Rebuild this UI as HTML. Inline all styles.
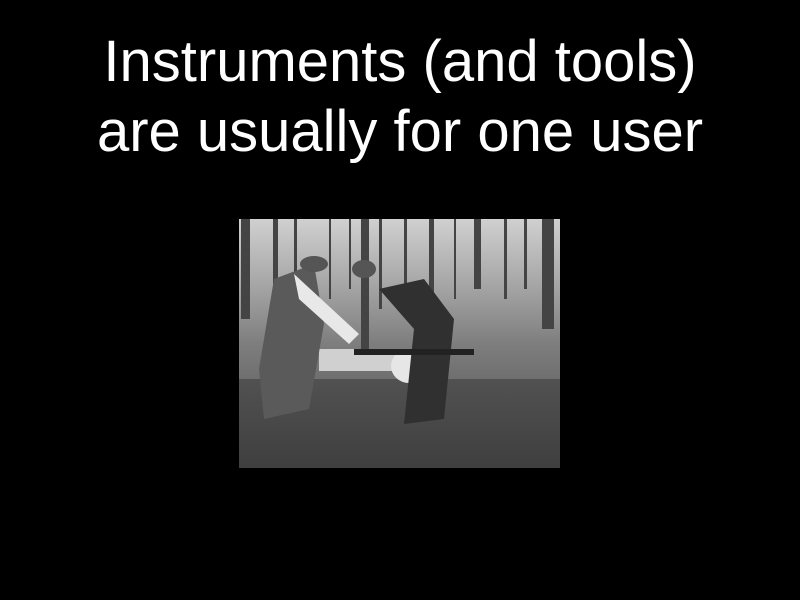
<!DOCTYPE html>
<html><head><meta charset="utf-8"><style>
html,body{margin:0;padding:0;background:#000;width:800px;height:600px;overflow:hidden}
.t{position:absolute;left:0;width:800px;text-align:center;color:#fff;font-family:"Liberation Sans",sans-serif;font-size:58px;line-height:58px;white-space:nowrap}
svg{position:absolute;left:239px;top:219px}
</style></head><body>
<div class="t" style="top:33px">Instruments (and tools)</div>
<div class="t" style="top:103px">are usually for one user</div>
<svg width="321" height="249" viewBox="0 0 321 249">
<defs>
<linearGradient id="g" x1="0" y1="0" x2="0" y2="1">
<stop offset="0" stop-color="#d0d0d0"/><stop offset="0.3" stop-color="#a0a0a0"/>
<stop offset="0.5" stop-color="#7e7e7e"/><stop offset="1" stop-color="#4a4a4a"/></linearGradient>
</defs>
<rect width="321" height="249" fill="url(#g)"/>
<g fill="#444">
<rect x="2" y="0" width="9" height="100"/><rect x="34" y="0" width="5" height="80"/>
<rect x="55" y="0" width="3" height="90"/><rect x="122" y="0" width="8" height="130"/>
<rect x="140" y="0" width="3" height="90"/><rect x="165" y="0" width="3" height="80"/>
<rect x="190" y="0" width="5" height="90"/><rect x="235" y="0" width="7" height="70"/>
<rect x="265" y="0" width="3" height="80"/><rect x="303" y="0" width="12" height="110"/>
<rect x="90" y="0" width="2" height="80"/><rect x="215" y="0" width="2" height="80"/>
<rect x="285" y="0" width="3" height="70"/><rect x="110" y="0" width="2" height="70"/>
</g>
<rect x="0" y="160" width="321" height="89" fill="#333" opacity="0.5"/>
<rect x="80" y="130" width="100" height="22" fill="#d0d0d0"/>
<ellipse cx="170" cy="147" rx="18" ry="17" fill="#e6e6e6"/>
<polygon points="35,60 75,45 85,105 70,190 25,200 20,150" fill="#5a5a5a"/>
<polygon points="55,55 120,115 110,125 60,80" fill="#e8e8e8"/>
<ellipse cx="75" cy="45" rx="14" ry="8" fill="#555"/>
<polygon points="140,70 185,60 215,100 205,200 165,205 175,110" fill="#303030"/>
<ellipse cx="125" cy="50" rx="12" ry="9" fill="#555"/>
<rect x="115" y="130" width="120" height="6" fill="#222"/>
</svg>
</body></html>
